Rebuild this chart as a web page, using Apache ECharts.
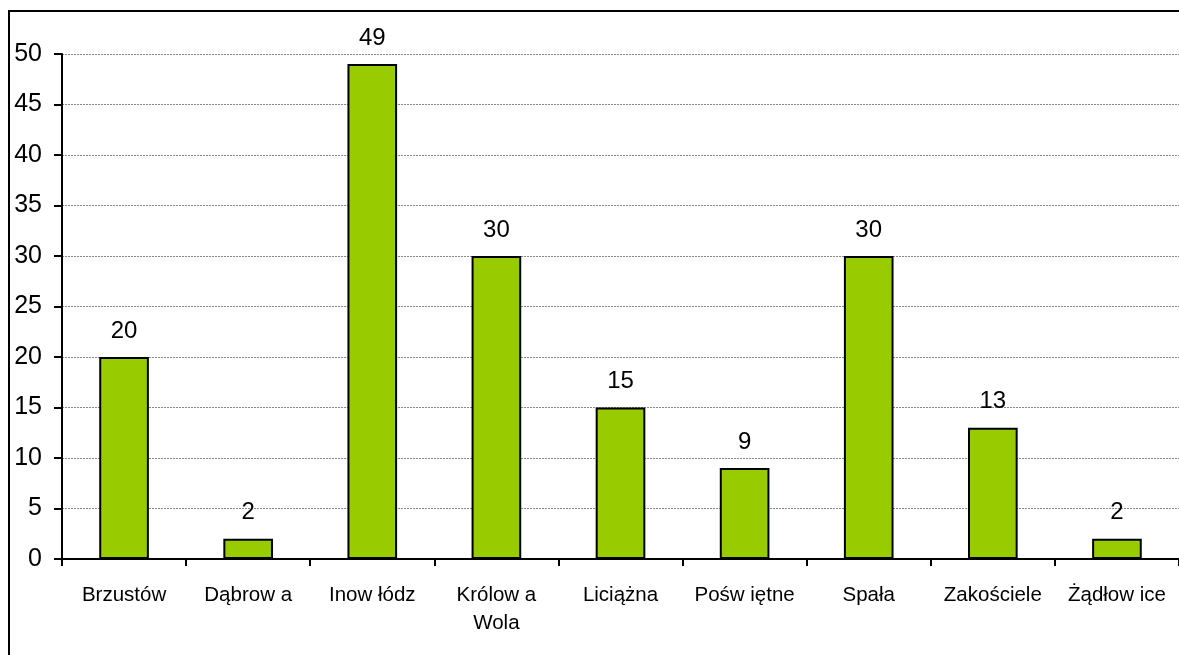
<!DOCTYPE html>
<html><head><meta charset="utf-8">
<script src="https://cdn.jsdelivr.net/npm/echarts@6/dist/echarts.min.js"></script>
<style>html,body{margin:0;padding:0;background:#fff}#c{width:1179px;height:655px}</style>
</head><body><div id="c"></div>
<script>
const categories = ['Brzustów','Dąbrow a','Inow łódz','Królow a\nWola','Liciążna','Pośw iętne','Spała','Zakościele','Żądłow ice'];
const values = [20, 2, 49, 30, 15, 9, 30, 13, 2];
const yTicks = {min: 0, max: 50, interval: 5};

const chart = echarts.init(document.getElementById('c'), null, {renderer: 'canvas'});
chart.setOption({
  animation: false,
  backgroundColor: '#fff',
  graphic: [{type: 'rect', shape: {x: 9, y: 11, width: 1300, height: 800}, style: {fill: 'none', stroke: '#000', lineWidth: 2}, z: 100}],
  grid: {left: 62, top: 54, width: 1125, height: 505, containLabel: false},
  xAxis: {
    type: 'category', data: categories,
    axisLine: {lineStyle: {color: '#000', width: 2}},
    axisTick: {show: true, length: 7, lineStyle: {color: '#000', width: 2}, alignWithLabel: false},
    axisLabel: {color: '#000', fontFamily: 'Liberation Sans, Arial', fontSize: 20.5, margin: 22, interval: 0, lineHeight: 28, verticalAlign: 'top'},
    splitLine: {show: false}
  },
  yAxis: {
    type: 'value', min: yTicks.min, max: yTicks.max, interval: yTicks.interval,
    axisLine: {show: true, lineStyle: {color: '#000', width: 2}},
    axisTick: {show: true, length: 8, lineStyle: {color: '#000', width: 2}},
    axisLabel: {color: '#000', fontFamily: 'Liberation Sans, Arial', fontSize: 25, margin: 20},
    splitLine: {show: true, lineStyle: {color: '#888', type: [2, 1], width: 1}}
  },
  series: [{
    type: 'bar', data: values, barWidth: '40%',
    itemStyle: {color: '#99cc00', borderColor: '#000', borderWidth: 2},
    label: {show: true, position: 'top', distance: 14, color: '#000', fontFamily: 'Liberation Sans, Arial', fontSize: 24}
  }]
});
</script></body></html>
